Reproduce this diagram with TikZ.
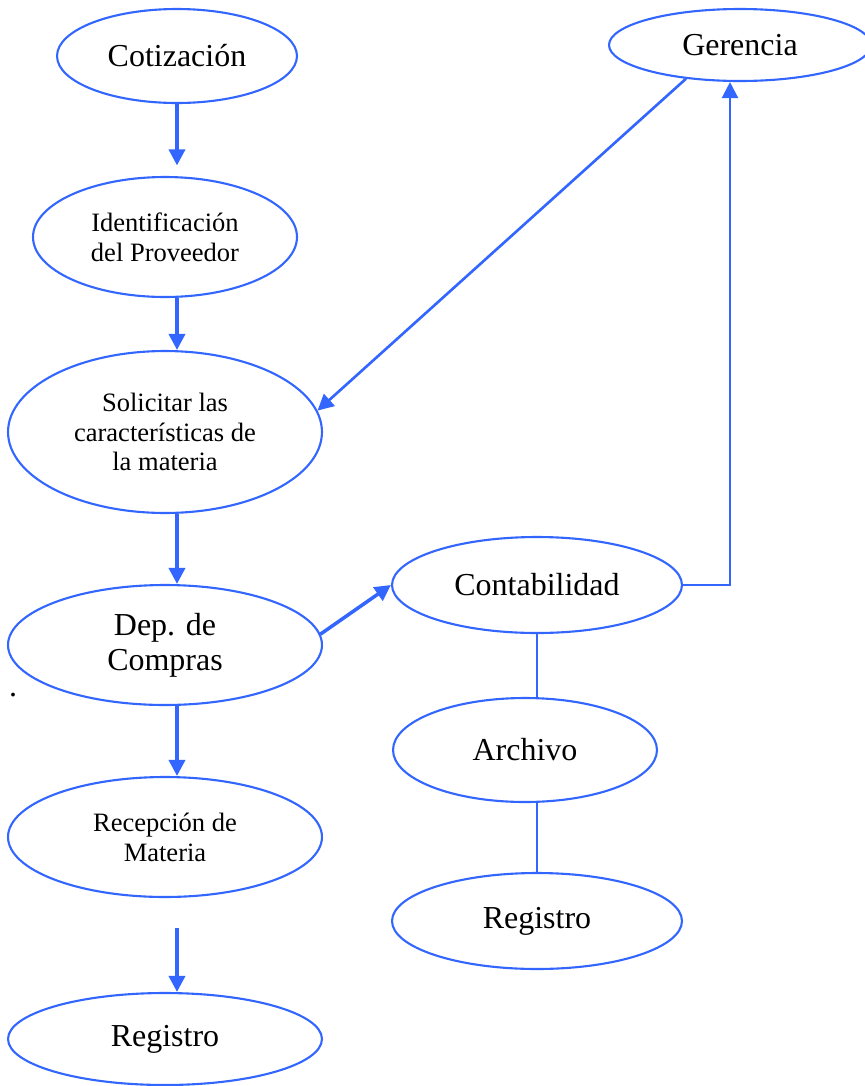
\documentclass[tikz,border=0pt]{standalone}
\usepackage{fontspec}
\setmainfont{Liberation Serif}
\usetikzlibrary{shapes.geometric,arrows.meta}
\definecolor{azul}{RGB}{51,102,255}
\begin{document}
\begin{tikzpicture}[x=0.02cm, y=-0.02cm,
  elipse/.style={ellipse, draw=azul, line width=1.2pt, inner sep=0pt, align=center},
  grande/.style={font=\fontsize{18.2}{19.9}\selectfont},
  chica/.style={font=\fontsize{15.1}{17}\selectfont},
  flecha/.style={azul, line width=2pt, -{Triangle[length=0.32cm,width=0.32cm]}},
  linea/.style={azul, line width=1.2pt}]
\useasboundingbox (0,0) rectangle (865,1086);
% columna izquierda
\node[elipse, grande, minimum width=4.8cm, minimum height=1.88cm] (coti) at (177,56) {Cotización};
\node[elipse, chica, minimum width=5.28cm, minimum height=2.4cm] (ident) at (165,237) {Identificación\\del Proveedor};
\node[elipse, chica, minimum width=6.28cm, minimum height=3.24cm] (solic) at (165,432) {Solicitar las\\características de\\la materia};
\node[elipse, grande, minimum width=6.28cm, minimum height=2.4cm] (dep) at (165,645) {Dep. de\\Compras};
\node[elipse, chica, minimum width=6.28cm, minimum height=2.4cm] (recep) at (165,837) {Recepción de\\Materia};
\node[elipse, grande, minimum width=6.28cm, minimum height=1.84cm] (regA) at (165,1039) {Registro};
\node[grande, inner sep=0pt] (punto) at (13,695) {.};
% columna derecha
\node[elipse, grande, minimum width=5.24cm, minimum height=1.44cm] (geren) at (740,45) {Gerencia};
\node[elipse, grande, minimum width=5.8cm, minimum height=1.92cm] (conta) at (537,585) {Contabilidad};
\node[elipse, grande, minimum width=5.28cm, minimum height=2.08cm] (archi) at (525,750) {Archivo};
\node[elipse, grande, minimum width=5.8cm, minimum height=1.92cm] (regB) at (537,921) {Registro};
\coordinate (esq) at (730,0);
% flechas
\draw[flecha, shorten >=6] (coti.south) -- (coti.south |- ident.north);
\draw[flecha] (ident.south -| coti) -- (solic.north -| coti);
\draw[flecha] (solic.south -| coti) -- (dep.north -| coti);
\draw[flecha] (dep.south -| coti) -- (recep.north -| coti);
\draw[flecha, shorten <=17] (recep.south -| coti) -- (regA.north -| coti);
\draw[flecha] (dep.4) -- (conta.west);
\draw[flecha, line width=1.5pt] (geren.212) -- (solic.8);
\draw[flecha, line width=1.3pt] (conta.east) -| (esq |- geren.south);
\draw[linea] (conta.south) -- (conta.south |- archi.north);
\draw[linea] (regB.north) -- (regB.north |- archi.south);
\end{tikzpicture}
\end{document}
